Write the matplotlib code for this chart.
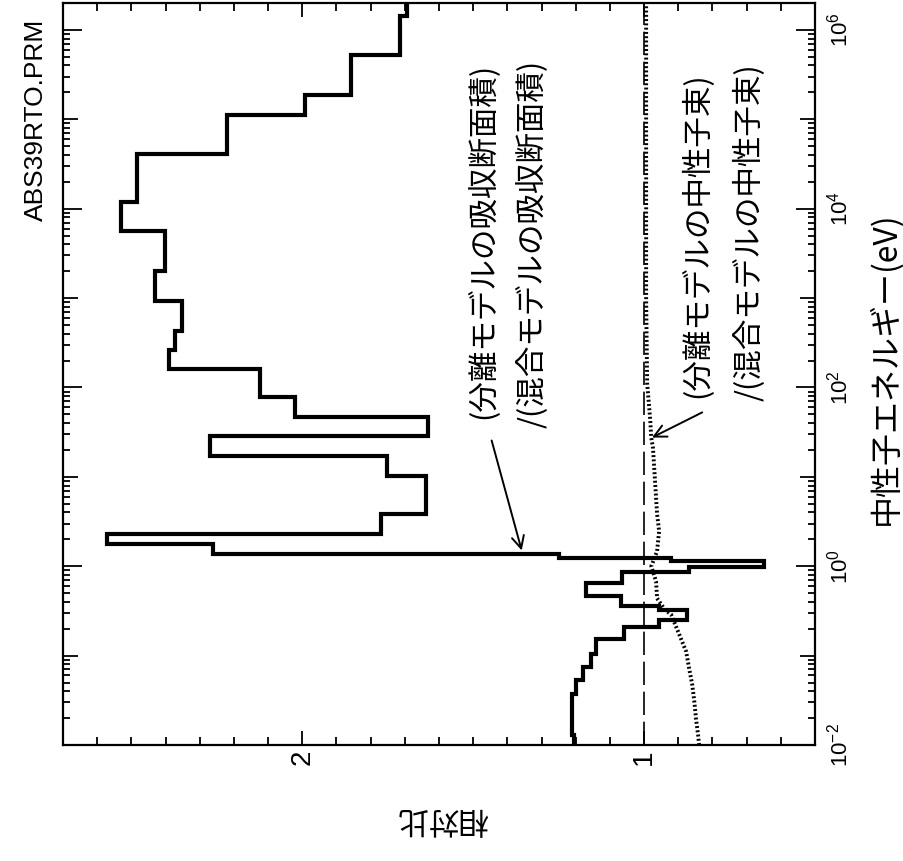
import numpy as np
import matplotlib
matplotlib.use("Agg")
import matplotlib.pyplot as plt
from matplotlib.ticker import FixedLocator, MultipleLocator, FuncFormatter, NullFormatter

plt.rcParams['font.family'] = ['Liberation Sans', 'DejaVu Sans']
plt.rcParams['mathtext.default'] = 'regular'
JP = ['Noto Sans CJK JP', 'DejaVu Sans']

# absorption cross-section ratio, group edges (eV) and one value per group
abs_edges = [0.01, 0.0129, 0.0373, 0.0536, 0.075, 0.105, 0.155, 0.211, 0.253,
             0.328, 0.355, 0.46, 0.644, 0.856, 0.975, 1.14, 1.23, 1.36, 1.77,
             2.29, 3.85, 10.3, 17.3, 28.3, 46.2, 77.6, 160, 262, 429, 933,
             2030, 5570, 11800, 40900, 112000, 189000, 518000, 1420000, 2000000]
abs_ratio = [1.205, 1.211, 1.199, 1.179, 1.155, 1.141, 1.059, 0.956, 0.874,
             0.956, 1.067, 1.170, 1.064, 0.868, 0.648, 0.921, 1.249, 2.261,
             2.572, 1.771, 1.639, 1.751, 2.270, 1.633, 2.021, 2.123, 2.390,
             2.372, 2.352, 2.431, 2.402, 2.531, 2.484, 2.220, 1.991, 1.856,
             1.713, 1.695]

# neutron flux ratio
flux_energy = [0.01, 0.0129, 0.0195, 0.0305, 0.047, 0.0712, 0.111, 0.172, 0.288,
               0.33, 0.437, 0.678, 1.0, 1.47, 2.47, 3.85, 9.0, 21, 27.5, 43,
               111, 960, 2000000]
flux_ratio = [0.839, 0.842, 0.848, 0.853, 0.859, 0.868, 0.877, 0.897, 0.921,
              0.94, 0.962, 0.965, 0.979, 0.962, 0.956, 0.962, 0.968, 0.974,
              0.979, 0.982, 0.991, 0.994, 0.994]

decades = [10.0 ** k for k in range(-2, 7)]
ratio_labels = {1: '1', 2: '2'}

W, H = 904, 861
fig = plt.figure(figsize=(W / 100, H / 100), dpi=100)
ax = fig.add_axes([63 / W, 1 - 745 / H, (815 - 63) / W, (745 - 3) / H])

ax.stairs(abs_ratio, abs_edges, orientation='horizontal', baseline=None,
          color='black', lw=3.0)
ax.plot(flux_ratio, flux_energy, color='black', lw=2.8, ls=(0, (0.5, 0.6)))
ax.axvline(1.0, color='black', lw=1.2, ls=(0, (14, 4)))

ax.set_yscale('log')
ax.set_ylim(1e-2, 2e6)
ax.set_xlim(2.7, 0.5)


def energy_label(v, pos):
    k = int(round(np.log10(v)))
    return '10$^{%d}$' % k if k % 2 == 0 else ''


def ratio_label(v, pos):
    k = int(round(v))
    return ratio_labels[k] if abs(v - k) < 1e-6 and k in ratio_labels else ''


# energy axis: ticks both sides, labels on the right every two decades
ax.yaxis.set_major_locator(FixedLocator(decades))
ax.yaxis.set_minor_locator(FixedLocator(
    [m * 10.0 ** k for k in range(-2, 6) for m in range(2, 10)] + [2e6]))
ax.yaxis.set_major_formatter(FuncFormatter(energy_label))
ax.yaxis.set_minor_formatter(NullFormatter())
ax.tick_params(axis='y', which='both', direction='in', left=True, right=True,
               labelleft=False, labelright=True, width=1.3)
ax.tick_params(axis='y', which='major', length=11, pad=8, labelsize=16,
               labelrotation=90)
ax.tick_params(axis='y', which='minor', length=5)

# ratio axis
ax.xaxis.set_major_locator(MultipleLocator(0.1))
ax.xaxis.set_major_formatter(FuncFormatter(ratio_label))
ax.tick_params(axis='x', which='major', direction='in', top=True, bottom=True,
               length=6, width=1.3, pad=3, labelsize=20, labelrotation=90)

fig.canvas.draw()
for t, v in zip(ax.yaxis.get_major_ticks(), ax.yaxis.get_majorticklocs()):
    if int(round(np.log10(v))) % 2 == 0:
        t.tick1line.set_markersize(14)
        t.tick2line.set_markersize(14)
for t, v in zip(ax.xaxis.get_major_ticks(), ax.xaxis.get_majorticklocs()):
    if abs(v - 1) < 1e-6 or abs(v - 2) < 1e-6:
        t.tick1line.set_markersize(10)
        t.tick2line.set_markersize(10)
for lab in ax.get_yticklabels():
    lab.set_va('center')

for s in ax.spines.values():
    s.set_linewidth(1.6)

# annotations
fig.text(483 / W, 1 - 419 / H, '(分離モデルの吸収断面積)', rotation=90,
         ha='center', va='bottom', fontsize=22, family=JP)
fig.text(533 / W, 1 - 428 / H, '/(混合モデルの吸収断面積)', rotation=90,
         ha='center', va='bottom', fontsize=22, family=JP)
fig.text(697 / W, 1 - 398 / H, '(分離モデルの中性子束)', rotation=90,
         ha='center', va='bottom', fontsize=22, family=JP)
fig.text(750 / W, 1 - 401 / H, '/(混合モデルの中性子束)', rotation=90,
         ha='center', va='bottom', fontsize=22, family=JP)

ax.annotate('', xy=(1.358, 1.5), xytext=(1.446, 25.5),
            arrowprops=dict(arrowstyle='->', lw=1.4, color='black',
                            mutation_scale=22, shrinkA=0, shrinkB=0))
ax.annotate('', xy=(0.977, 27.5), xytext=(0.830, 52.6),
            arrowprops=dict(arrowstyle='->', lw=1.4, color='black',
                            mutation_scale=22, shrinkA=0, shrinkB=0))

fig.text(885 / W, 1 - 368 / H, '中性子エネルギー(eV)', rotation=90,
         ha='center', va='center', fontsize=23, family=JP)
fig.text(36 / W, 1 - 120 / H, 'ABS39RTO.PRM', rotation=90,
         ha='center', va='center', fontsize=19)
fig.text(442 / W, 1 - 818 / H, '相対比', rotation=180,
         ha='center', va='center', fontsize=22, family=JP)

fig.savefig('out.png', dpi=100)
